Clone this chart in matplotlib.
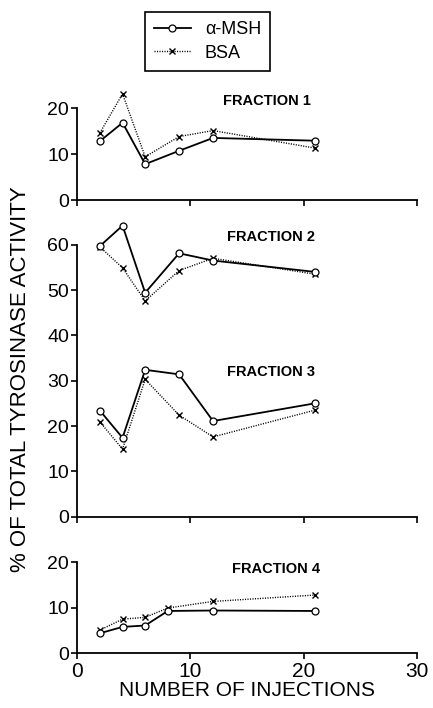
import matplotlib
matplotlib.use("Agg")
import matplotlib.pyplot as plt
from matplotlib.lines import Line2D

plt.rcParams['font.family'] = ['Liberation Sans', 'DejaVu Sans']

# Data
x_inj = [2, 4, 6, 9, 12, 21]
x_inj_f4 = [2, 4, 6, 8, 12, 21]

f1_msh = [12.8, 16.8, 7.8, 10.7, 13.5, 12.9]
f1_bsa = [14.6, 23.1, 9.4, 13.8, 15.1, 11.3]

f2_msh = [59.7, 64.2, 49.4, 58.1, 56.5, 54.0]
f2_bsa = [59.5, 54.9, 47.6, 54.3, 57.0, 53.5]

f3_msh = [23.4, 17.4, 32.4, 31.4, 21.1, 25.0]
f3_bsa = [20.9, 14.9, 30.3, 22.4, 17.6, 23.5]

f4_msh = [4.4, 5.8, 6.1, 9.3, 9.4, 9.3]
f4_bsa = [5.1, 7.5, 7.9, 9.95, 11.4, 12.8]

x_ticks = [0, 10, 20, 30]
labels = ['α-MSH', 'BSA']

fig = plt.figure(figsize=(4.33, 7.08), dpi=100)

left, width = 0.1785, 0.7838
ax1 = fig.add_axes([left, 0.7175, width, 0.1299])
ax2 = fig.add_axes([left, 0.2702, width, 0.3842])
ax3 = fig.add_axes([left, 0.0773, width, 0.1285])

msh_kw = dict(color='black', linestyle='-', linewidth=1.3, marker='o',
              markersize=5, markerfacecolor='white', markeredgecolor='black',
              markeredgewidth=0.9)
bsa_kw = dict(color='black', linestyle=(0, (0.8, 1.0)), linewidth=1.0, marker='x',
              markersize=4.5, markeredgewidth=1.0)

def draw(ax, xs, msh, bsa):
    ax.plot(xs, bsa, zorder=3, clip_on=False, **bsa_kw)
    ax.plot(xs, msh, zorder=4, clip_on=False, **msh_kw)

draw(ax1, x_inj, f1_msh, f1_bsa)
draw(ax2, x_inj, f2_msh, f2_bsa)
draw(ax2, x_inj, f3_msh, f3_bsa)
draw(ax3, x_inj_f4, f4_msh, f4_bsa)

for ax, ymax, yt in [(ax1, 20, [0, 10, 20]),
                     (ax2, 60, [0, 10, 20, 30, 40, 50, 60]),
                     (ax3, 20, [0, 10, 20])]:
    ax.set_xlim(0, 30)
    ax.set_ylim(0, ymax)
    ax.set_xticks(x_ticks)
    ax.set_yticks(yt)
    ax.spines['top'].set_visible(False)
    ax.spines['right'].set_visible(False)
    for s in ['left', 'bottom']:
        ax.spines[s].set_linewidth(1.3)
    ax.tick_params(axis='both', direction='out', length=4, width=1.2,
                   labelsize=14, pad=2)
    ax.patch.set_visible(False)

ax1.tick_params(axis='x', labelbottom=False)
ax2.tick_params(axis='x', labelbottom=False)
ax3.tick_params(axis='x', labelsize=15, pad=2)

frac_kw = dict(fontsize=10.5, fontweight='bold', va='center', ha='left')
ax1.text(0.428, 1.08, 'FRACTION 1', transform=ax1.transAxes, **frac_kw)
ax2.text(0.441, 1.03, 'FRACTION 2', transform=ax2.transAxes, **frac_kw)
ax2.text(0.441, 0.531, 'FRACTION 3', transform=ax2.transAxes, **frac_kw)
ax3.text(0.455, 0.923, 'FRACTION 4', transform=ax3.transAxes, **frac_kw)

ax3.set_xlabel('NUMBER OF INJECTIONS', fontsize=15, labelpad=0)

fig.text(0.048, 0.465, '% OF TOTAL TYROSINASE ACTIVITY', rotation=90,
         fontsize=16, ha='center', va='center')

handles = [Line2D([], [], **msh_kw), Line2D([], [], **bsa_kw)]
leg = fig.legend(handles, labels, loc='center', bbox_to_anchor=(0.48, 0.9414),
                 fancybox=False, edgecolor='black', fontsize=13,
                 handlelength=2.0, handletextpad=0.8, borderpad=0.5,
                 labelspacing=0.35, framealpha=1)
leg.get_frame().set_linewidth(1.2)

fig.savefig('out.png', dpi=100)
